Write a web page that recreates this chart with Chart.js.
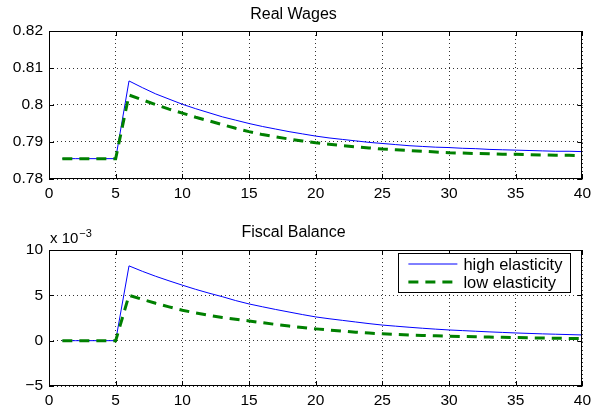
<!DOCTYPE html>
<html>
<head>
<meta charset="utf-8">
<script src="https://cdn.jsdelivr.net/npm/chart.js@4.4.1/dist/chart.umd.min.js"></script>
<style>
  html, body { margin: 0; padding: 0; background: #fff; }
  #wrap { position: relative; width: 596px; height: 407px; }
  canvas { position: absolute; left: 0; }
  #top { top: 0; }
  #bottom { top: 200px; }
</style>
</head>
<body>
<div id="wrap">
  <canvas id="top" width="596" height="200"></canvas>
  <canvas id="bottom" width="596" height="207"></canvas>
</div>
<script>
// periods on the x axis
const periods = [1, 2, 3, 4, 5, 6, 7, 8, 9, 10, 11, 12, 13, 14, 15, 16, 17, 18, 19, 20,
  21, 22, 23, 24, 25, 26, 27, 28, 29, 30, 31, 32, 33, 34, 35, 36, 37, 38, 39, 40];

const seriesNames = ['high elasticity', 'low elasticity'];

// Real wages
const wagesHigh = [0.7855, 0.7855, 0.7855, 0.7855, 0.7855, 0.8065, 0.8047, 0.8030, 0.8016, 0.8002,
  0.7990, 0.7979, 0.7968, 0.7959, 0.7950, 0.7942, 0.7935, 0.7928, 0.7922, 0.7916,
  0.7911, 0.7907, 0.7903, 0.7899, 0.7896, 0.7893, 0.7890, 0.7888, 0.7886, 0.7885,
  0.7883, 0.7882, 0.7880, 0.7879, 0.7878, 0.7877, 0.7876, 0.7875, 0.7875, 0.7874];
const wagesLow = [0.7855, 0.7855, 0.7855, 0.7855, 0.7855, 0.8027, 0.8014, 0.8001, 0.7989, 0.7978,
  0.7967, 0.7957, 0.7947, 0.7937, 0.7928, 0.7920, 0.7914, 0.7908, 0.7903, 0.7898,
  0.7894, 0.7890, 0.7887, 0.7884, 0.7881, 0.7879, 0.7877, 0.7875, 0.7873, 0.7871,
  0.7870, 0.7869, 0.7868, 0.7867, 0.7867, 0.7866, 0.7865, 0.7864, 0.7864, 0.7863];

// Fiscal balance, in units of 10^-3
const fiscalHigh = [0, 0, 0, 0, 0, 8.25, 7.65, 7.10, 6.60, 6.12,
  5.66, 5.24, 4.85, 4.42, 4.05, 3.74, 3.44, 3.16, 2.88, 2.62,
  2.42, 2.24, 2.06, 1.88, 1.72, 1.60, 1.48, 1.37, 1.27, 1.18,
  1.11, 1.04, 0.97, 0.91, 0.85, 0.80, 0.75, 0.71, 0.67, 0.63];
const fiscalLow = [0, 0, 0, 0, 0, 5.00, 4.55, 4.12, 3.73, 3.36,
  3.06, 2.80, 2.56, 2.36, 2.18, 1.98, 1.79, 1.61, 1.45, 1.30,
  1.17, 1.05, 0.94, 0.84, 0.75, 0.69, 0.63, 0.58, 0.53, 0.49,
  0.46, 0.43, 0.40, 0.37, 0.34, 0.32, 0.29, 0.27, 0.25, 0.23];

const FONT = '"Liberation Sans", Arial, Helvetica, sans-serif';

// draws the black box and the inward tick marks, matlab style
const boxPlugin = {
  id: 'box',
  afterDraw(chart) {
    const ctx = chart.ctx;
    const a = chart.chartArea;
    const x = chart.scales.x, y = chart.scales.y;
    ctx.save();
    ctx.strokeStyle = '#000';
    ctx.lineWidth = 1;
    ctx.setLineDash([]);
    ctx.strokeRect(Math.round(a.left) + 0.5, Math.round(a.top) + 0.5,
      Math.round(a.right - a.left) - 1, Math.round(a.bottom - a.top) - 1);
    ctx.beginPath();
    x.ticks.forEach(t => {
      const px = Math.round(x.getPixelForValue(t.value)) + 0.5;
      ctx.moveTo(px, a.bottom); ctx.lineTo(px, a.bottom - 5);
      ctx.moveTo(px, a.top); ctx.lineTo(px, a.top + 5);
    });
    y.ticks.forEach(t => {
      const py = Math.round(y.getPixelForValue(t.value)) + 0.5;
      ctx.moveTo(a.left, py); ctx.lineTo(a.left + 5, py);
      ctx.moveTo(a.right, py); ctx.lineTo(a.right - 5, py);
    });
    ctx.stroke();
    ctx.restore();
  }
};

// legend box inside the bottom plot
const legendPlugin = {
  id: 'boxLegend',
  afterDraw(chart) {
    const ctx = chart.ctx;
    const a = chart.chartArea;
    const w = 172, h = 39;
    const lx = a.right - 12 - w, ly = a.top + 3;
    ctx.save();
    ctx.fillStyle = '#fff';
    ctx.fillRect(lx, ly, w, h);
    ctx.strokeStyle = '#000';
    ctx.lineWidth = 1;
    ctx.strokeRect(Math.round(lx) + 0.5, Math.round(ly) + 0.5, w, h);
    chart.data.datasets.forEach((ds, i) => {
      const ry = ly + 11 + i * 18;
      ctx.beginPath();
      ctx.strokeStyle = ds.borderColor;
      ctx.lineWidth = ds.borderWidth;
      ctx.setLineDash(ds.borderDash || []);
      ctx.moveTo(lx + 10, ry);
      ctx.lineTo(lx + 59, ry);
      ctx.stroke();
      ctx.setLineDash([]);
      ctx.fillStyle = '#000';
      ctx.font = '16.5px ' + FONT;
      ctx.textBaseline = 'middle';
      ctx.fillText(ds.label, lx + 65, ry + 1);
    });
    ctx.restore();
  }
};

// "x 10^-3" exponent label above the bottom y axis
const exponentPlugin = {
  id: 'exponent',
  afterDraw(chart) {
    const ctx = chart.ctx;
    ctx.save();
    ctx.fillStyle = '#000';
    ctx.textBaseline = 'alphabetic';
    ctx.font = '15px ' + FONT;
    ctx.fillText('x 10', 50, 43);
    const w = ctx.measureText('x 10').width;
    ctx.font = '11px ' + FONT;
    ctx.fillText('\u22123', 50 + w + 1, 37);
    ctx.restore();
  }
};

function makeDatasets(high, low) {
  return [
    {
      label: seriesNames[0],
      data: periods.map((p, i) => ({ x: p, y: high[i] })),
      borderColor: '#0000ff',
      borderWidth: 1,
      pointRadius: 0,
      tension: 0,
      order: 2
    },
    {
      label: seriesNames[1],
      data: periods.map((p, i) => ({ x: p, y: low[i] })),
      borderColor: '#008000',
      borderWidth: 3,
      borderDash: [10, 7],
      pointRadius: 0,
      tension: 0,
      order: 1
    }
  ];
}

function makeOptions(title, titlePad, ymin, ymax, ystep, fmt) {
  return {
    responsive: false,
    animation: false,
    devicePixelRatio: 1,
    layout: { padding: { left: 0, right: 9, top: 0, bottom: 0 } },
    plugins: {
      legend: { display: false },
      tooltip: { enabled: false },
      title: {
        display: true,
        text: title,
        color: '#000',
        font: { family: FONT, size: 16, weight: 'normal', lineHeight: 1.25 },
        padding: titlePad
      }
    },
    scales: {
      x: {
        type: 'linear',
        min: 0,
        max: 40,
        afterFit: s => { s.height = 21; },
        ticks: { stepSize: 5, color: '#000', padding: 5, font: { family: FONT, size: 15.5 } },
        grid: { color: '#333', drawTicks: false },
        border: { display: false, dash: [1, 3] }
      },
      y: {
        min: ymin,
        max: ymax,
        afterFit: s => { s.width = 49; },
        ticks: { stepSize: ystep, color: '#000', padding: 6, font: { family: FONT, size: 15.5 }, callback: fmt },
        grid: { color: '#333', drawTicks: false },
        border: { display: false, dash: [1, 3] }
      }
    }
  };
}

new Chart(document.getElementById('top'), {
  type: 'line',
  data: { datasets: makeDatasets(wagesHigh, wagesLow) },
  options: makeOptions('Real Wages', { top: 5, bottom: 6 }, 0.78, 0.82, 0.01,
    v => String(Number(v.toFixed(2)))),
  plugins: [boxPlugin]
});

new Chart(document.getElementById('bottom'), {
  type: 'line',
  data: { datasets: makeDatasets(fiscalHigh, fiscalLow) },
  options: makeOptions('Fiscal Balance', { top: 23, bottom: 7 }, -5, 10, 5,
    v => (v < 0 ? '\u2212' + Math.abs(v) : String(v))),
  plugins: [boxPlugin, legendPlugin, exponentPlugin]
});
</script>
</body>
</html>
